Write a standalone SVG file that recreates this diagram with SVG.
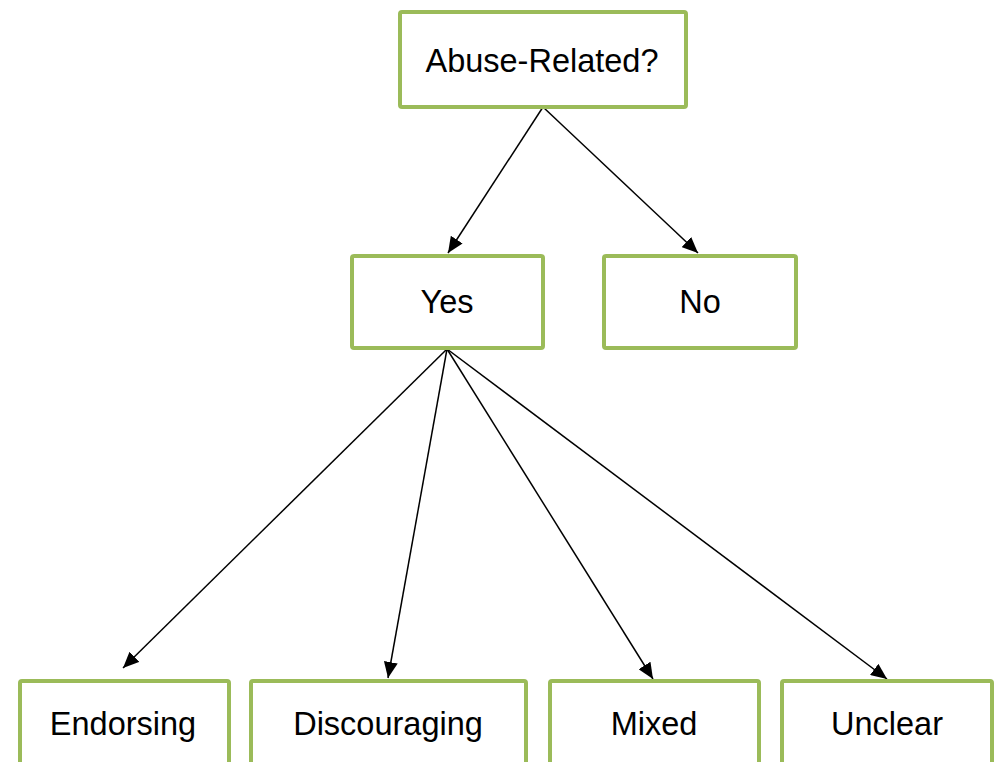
<svg xmlns="http://www.w3.org/2000/svg" width="996" height="762" viewBox="0 0 996 762">
<style>
.box{fill:#fff;stroke:#9BBB59;stroke-width:4}
.lbl{font-family:"Liberation Sans","DejaVu Sans",sans-serif;font-size:32.5px;fill:#000;text-anchor:middle}
.edge{stroke:#000;stroke-width:1.5;fill:none}
</style>
<defs>
<marker id="ah" markerUnits="userSpaceOnUse" markerWidth="16" markerHeight="14" refX="16" refY="7" orient="auto">
<path d="M0,0 L16,7 L0,14 Z" fill="#000"/>
</marker>
</defs>
<rect width="996" height="762" fill="#fff"/>
<g id="connectors">
<line class="edge" x1="543" y1="107" x2="448" y2="253" marker-end="url(#ah)"/>
<line class="edge" x1="543" y1="107" x2="698" y2="253" marker-end="url(#ah)"/>
<line class="edge" x1="447" y1="349" x2="123" y2="668" marker-end="url(#ah)"/>
<line class="edge" x1="447" y1="349" x2="388" y2="678" marker-end="url(#ah)"/>
<line class="edge" x1="447" y1="349" x2="653" y2="679" marker-end="url(#ah)"/>
<line class="edge" x1="447" y1="349" x2="887" y2="679" marker-end="url(#ah)"/>
</g>
<g id="abuse">
<rect class="box" x="400" y="12" width="286" height="95" rx="2"/>
<text class="lbl" x="542" y="72">Abuse-Related?</text>
</g>
<g id="yes">
<rect class="box" x="352" y="256" width="191" height="92" rx="2"/>
<text class="lbl" x="447" y="313">Yes</text>
</g>
<g id="no">
<rect class="box" x="604" y="256" width="192" height="92" rx="2"/>
<text class="lbl" x="700" y="313">No</text>
</g>
<g id="endorsing">
<rect class="box" x="20" y="681" width="209" height="100" rx="2"/>
<text class="lbl" x="123" y="735">Endorsing</text>
</g>
<g id="discouraging">
<rect class="box" x="251" y="681" width="275" height="100" rx="2"/>
<text class="lbl" x="388" y="735">Discouraging</text>
</g>
<g id="mixed">
<rect class="box" x="550" y="681" width="209" height="100" rx="2"/>
<text class="lbl" x="654" y="735">Mixed</text>
</g>
<g id="unclear">
<rect class="box" x="782" y="681" width="210" height="100" rx="2"/>
<text class="lbl" x="887" y="735">Unclear</text>
</g>
</svg>
